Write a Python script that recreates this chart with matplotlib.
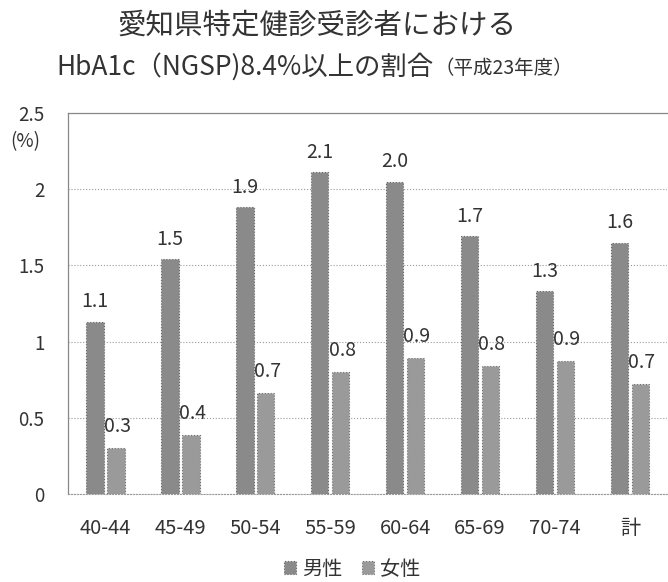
import numpy as np
import matplotlib.pyplot as plt

plt.rcParams['font.family'] = ['Noto Sans CJK JP', 'DejaVu Sans']

ages = ['40-44', '45-49', '50-54', '55-59', '60-64', '65-69', '70-74', '計']
male = [1.13, 1.54, 1.88, 2.11, 2.05, 1.69, 1.33, 1.65]
female = [0.30, 0.39, 0.66, 0.80, 0.89, 0.84, 0.875, 0.72]
male_lbl = ['1.1', '1.5', '1.9', '2.1', '2.0', '1.7', '1.3', '1.6']
female_lbl = ['0.3', '0.4', '0.7', '0.8', '0.9', '0.8', '0.9', '0.7']
yticks = [0, 0.5, 1, 1.5, 2, 2.5]
ytick_lbl = ['0', '0.5', '1', '1.5', '2', '2.5']

txt = '#333333'
fig = plt.figure(figsize=(6.68, 5.82), dpi=100)
ax = fig.add_axes([0.102, 0.151, 0.897, 0.655])

x = np.arange(len(ages))
w = 0.23
off = 0.14
b1 = ax.bar(x - off, male, w, color='#8a8a8a', edgecolor='#666666', linewidth=0.8, linestyle=':', label='男性')
b2 = ax.bar(x + off, female, w, color='#9a9a9a', edgecolor='#707070', linewidth=0.8, linestyle=':', label='女性')

for xi, v, s in zip(x - off, male, male_lbl):
    ax.annotate(s, (xi, v), xytext=(0, 7), textcoords='offset points',
                ha='center', va='bottom', fontsize=14, color=txt)
for xi, v, s in zip(x + off, female, female_lbl):
    ax.annotate(s, (xi, v), xytext=(1, 8), textcoords='offset points',
                ha='center', va='bottom', fontsize=14, color=txt)

ax.set_xlim(-0.5, len(ages) - 0.5)
ax.set_ylim(0, 2.5)
ax.set_yticks(yticks)
ax.set_yticklabels(ytick_lbl)
ax.set_xticks(x)
ax.set_xticklabels(ages)
ax.tick_params(axis='both', length=0, labelcolor=txt)
ax.tick_params(axis='y', pad=17, labelsize=13.5)
ax.tick_params(axis='x', pad=17, labelsize=14.5)
ax.grid(axis='y', color='#999999', linestyle=':', linewidth=0.8)
ax.set_axisbelow(True)
for sp in ['left', 'top']:
    ax.spines[sp].set_color('#888888')
    ax.spines[sp].set_linewidth(0.9)
ax.spines['bottom'].set_color('#999999')
ax.spines['bottom'].set_linestyle(':')
ax.spines['right'].set_visible(False)

fig.text(0.038, 0.757, '(%)', ha='center', va='center', fontsize=13.5, color=txt)

fig.text(0.475, 0.957, '愛知県特定健診受診者における', ha='center', va='center', fontsize=20.5, color=txt)
fig.text(0.085, 0.885, 'HbA1c（NGSP)8.4%以上の割合', ha='left', va='center', fontsize=19, color=txt)
fig.text(0.651, 0.883, '（平成23年度）', ha='left', va='center', fontsize=14, color=txt)

fig.legend(handles=[b1, b2], loc='center', bbox_to_anchor=(0.527, 0.022), ncol=2, frameon=False,
           fontsize=14.5, handlelength=0.6, handleheight=0.6, handletextpad=0.3, columnspacing=1.0,
           labelcolor=txt)

fig.savefig('out.png', dpi=100)
